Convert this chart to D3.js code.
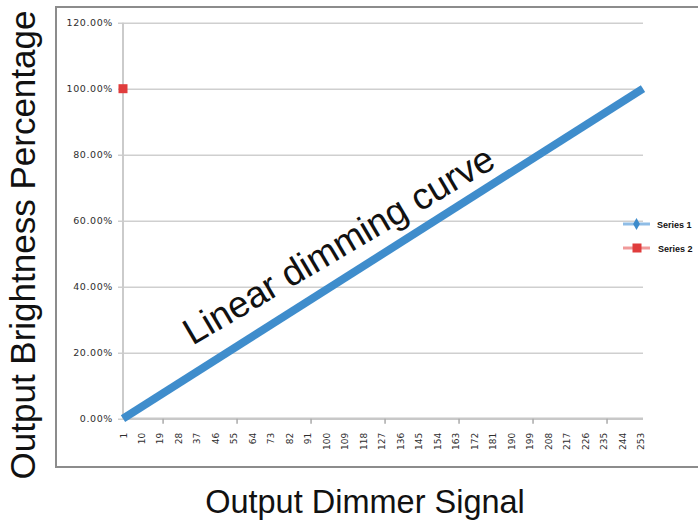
<!DOCTYPE html>
<html>
<head>
<meta charset="utf-8">
<script src="https://cdn.jsdelivr.net/npm/d3@7/dist/d3.min.js"></script>
<style>
  html, body { margin: 0; padding: 0; background: #fff; }
  svg { display: block; }
</style>
</head>
<body>
<svg id="chart" width="698" height="522"></svg>
<script>
// ---- data ----
const xLabels = [1,10,19,28,37,46,55,64,73,82,91,100,109,118,127,136,145,154,163,172,181,190,199,208,217,226,235,244,253];
const xTickMarks = [20.5, 56.5, 92.5, 128.5, 164.5, 200.5, 236.5];
const yTicks = [0, 0.2, 0.4, 0.6, 0.8, 1.0, 1.2];
const yTickLabels = ["0.00%","20.00%","40.00%","60.00%","80.00%","100.00%","120.00%"];
const series1Signal = [1, 254];
const series1Brightness = [0, 1.0];
const series2Signal = [1];
const series2Brightness = [1.0];
const legendNames = ["Series 1", "Series 2"];

// ---- layout ----
const svg = d3.select("#chart");
const x = d3.scaleLinear().domain([1, 254]).range([123, 643]);
const y = d3.scaleLinear().domain([0, 1.2]).range([418.7, 22.7]);

// outer frame
svg.append("rect")
  .attr("x", 56).attr("y", 7).attr("width", 680).attr("height", 460)
  .attr("fill", "none").attr("stroke", "#8c8c8c").attr("stroke-width", 2);

// horizontal gridlines + y labels
const yAxis = d3.axisLeft(y)
  .tickValues(yTicks)
  .tickSize(-(x(254) - x(1)))
  .tickPadding(10)
  .tickFormat((d, i) => yTickLabels[i]);
const gy = svg.append("g").attr("transform", `translate(${x(1)},0)`).call(yAxis);
gy.select(".domain").remove();
gy.selectAll(".tick line").attr("stroke", "#cfcfcf").attr("stroke-width", 1.6).attr("x1", -5);
gy.selectAll(".tick text")
  .attr("font-family", "DejaVu Sans, sans-serif")
  .attr("font-size", 9.5)
  .attr("letter-spacing", 0.6)
  .attr("fill", "#2e2e2e");

// y axis vertical line
svg.append("line")
  .attr("x1", x(1)).attr("x2", x(1))
  .attr("y1", y(1.2)).attr("y2", y(0))
  .attr("stroke", "#cbcbcb").attr("stroke-width", 2);

// x axis
const xAxis = d3.axisBottom(x).tickValues(xLabels).tickSize(0).tickPadding(0);
const gx = svg.append("g").attr("transform", `translate(0,${y(0)})`).call(xAxis);
gx.select(".domain").remove();
gx.selectAll(".tick text")
  .attr("font-family", "DejaVu Sans, sans-serif")
  .attr("font-size", 9)
  .attr("fill", "#2e2e2e")
  .attr("text-anchor", "end")
  .attr("dy", null)
  .attr("transform", "translate(3,14) rotate(-90)");

svg.append("line")
  .attr("x1", x(1)).attr("x2", x(254))
  .attr("y1", y(0)).attr("y2", y(0))
  .attr("stroke", "#c8c8c8").attr("stroke-width", 2.5);

svg.append("g").selectAll("line").data(xTickMarks).join("line")
  .attr("x1", d => x(d)).attr("x2", d => x(d))
  .attr("y1", y(0)).attr("y2", y(0) + 5)
  .attr("stroke", "#aaaaaa").attr("stroke-width", 1.5);

// series 1 line
const s1 = series1Signal.map((s, i) => [s, series1Brightness[i]]);
svg.append("path")
  .datum(s1)
  .attr("d", d3.line().x(d => x(d[0])).y(d => y(d[1])))
  .attr("fill", "none")
  .attr("stroke", "#3f8dcc")
  .attr("stroke-width", 8);

// series 2 point
const s2 = series2Signal.map((s, i) => [s, series2Brightness[i]]);
svg.append("g").selectAll("rect").data(s2).join("rect")
  .attr("x", d => x(d[0]) - 4.5).attr("y", d => y(d[1]) - 4.5)
  .attr("width", 9).attr("height", 9)
  .attr("fill", "#e03c3c");

// annotation
svg.append("text")
  .attr("transform", "translate(345,256) rotate(-30.5)")
  .attr("text-anchor", "middle")
  .attr("font-family", "Liberation Sans, Arial, sans-serif")
  .attr("font-size", 37)
  .attr("fill", "#111")
  .text("Linear dimming curve");

// legend
const legend = svg.append("g");
const lg = legend.selectAll("g").data(legendNames).join("g")
  .attr("transform", (d, i) => `translate(623,${224 + i * 24})`);
lg.append("line")
  .attr("x1", 0).attr("x2", 27).attr("y1", 0).attr("y2", 0)
  .attr("stroke", (d, i) => i === 0 ? "#8fbde6" : "#f09a9a")
  .attr("stroke-width", 3);
lg.filter((d, i) => i === 0).append("path")
  .attr("d", d3.symbol().type(d3.symbolDiamond).size(40))
  .attr("transform", "translate(13.5,0)")
  .attr("fill", "#3d8bcb");
lg.filter((d, i) => i === 1).append("rect")
  .attr("x", 9.5).attr("y", -4.5).attr("width", 9).attr("height", 9)
  .attr("fill", "#e03c3c");
lg.append("text")
  .attr("x", (d, i) => i === 0 ? 34 : 35).attr("y", 3.5)
  .attr("font-family", "Liberation Sans, Arial, sans-serif")
  .attr("font-weight", "bold")
  .attr("font-size", 9)
  .attr("fill", "#111")
  .text(d => d);

// axis titles
svg.append("text")
  .attr("transform", "translate(35,245) rotate(-90)")
  .attr("text-anchor", "middle")
  .attr("font-family", "Liberation Sans, Arial, sans-serif")
  .attr("font-size", 35)
  .attr("fill", "#111")
  .text("Output Brightness Percentage");

svg.append("text")
  .attr("x", 365).attr("y", 513)
  .attr("text-anchor", "middle")
  .attr("font-family", "Liberation Sans, Arial, sans-serif")
  .attr("font-size", 32.5)
  .attr("fill", "#111")
  .text("Output Dimmer Signal");
</script>
</body>
</html>
